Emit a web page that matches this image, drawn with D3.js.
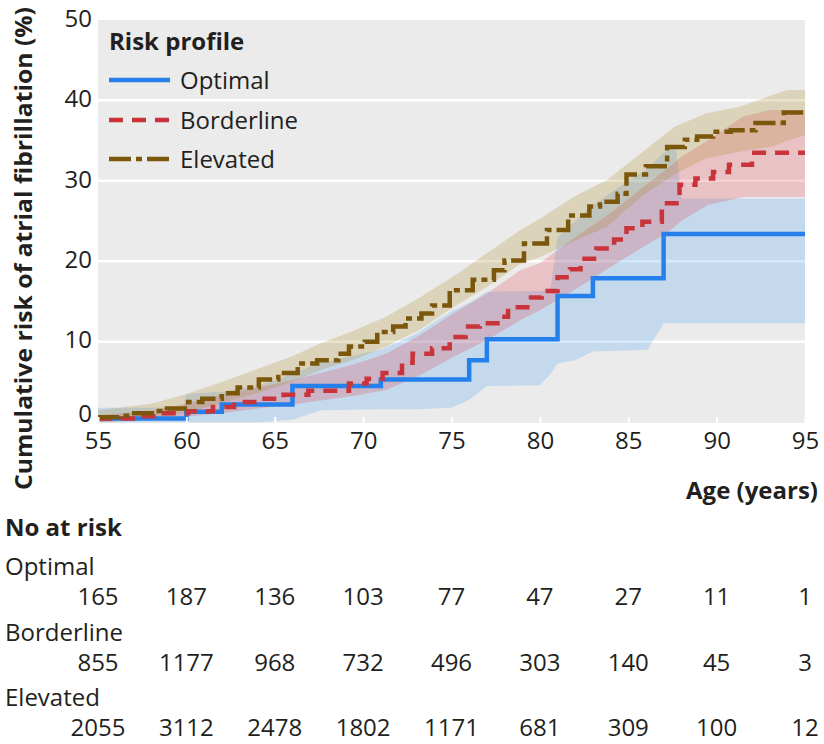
<!DOCTYPE html>
<html><head><meta charset="utf-8">
<script src="https://cdn.jsdelivr.net/npm/d3@7"></script>
<style>
body{margin:0;background:#fff;}
svg{display:block;font-family:"Open Sans",Lato,sans-serif;}
</style>
</head><body>
<svg id="chart" width="824" height="744"></svg>
<script>
// ---------- data ----------
const ageTicks = [55, 60, 65, 70, 75, 80, 85, 90, 95];
const riskTicks = [0, 10, 20, 30, 40, 50];
const seriesNames = ["Optimal", "Borderline", "Elevated"];

// step functions: [age, cumulative risk %]
const optimalSteps = [[55,0.45],[60,1.3],[62,2.2],[66,4.5],[71,5.3],[76,7.7],[77,10.3],[81,15.7],[83,17.9],[87,23.4],[95,23.4]];
const borderlineSteps = [[55,0.45],[57.3,0.75],[58.6,1.1],[60.1,1.35],[61.5,1.9],[62.7,2.5],[64.0,2.9],[65.5,3.4],[66.9,3.9],[69.2,4.8],[70.2,5.4],[71.1,6.1],[72.2,7.4],[72.8,8.5],[73.9,9.2],[74.9,10.6],[75.8,11.9],[76.6,12.3],[77.6,13.1],[78.2,14.3],[79.5,15.5],[80.1,16.3],[81.0,18.0],[81.7,19.0],[82.3,20.3],[83.2,21.6],[84.2,22.7],[84.9,24.1],[85.8,24.9],[86.9,27.2],[87.9,29.5],[88.8,30.3],[89.8,31.1],[90.7,32.0],[92.0,33.5],[95,33.5]];
const elevatedSteps = [[55,0.6],[56.2,0.8],[56.9,1.1],[58.2,1.4],[58.9,1.7],[60.1,2.5],[60.9,2.9],[62.0,3.6],[62.9,4.3],[64.1,5.3],[65.2,6.1],[66.3,7.3],[67.4,7.7],[68.6,8.5],[69.2,9.4],[70.1,10.0],[70.8,11.2],[71.7,11.9],[72.4,12.9],[73.3,13.5],[73.9,14.5],[74.9,16.4],[76.2,17.7],[77.4,18.9],[78.0,20.1],[79.1,22.2],[80.4,23.9],[81.6,25.7],[82.8,26.8],[83.4,27.4],[84.4,28.4],[84.9,30.8],[86.0,31.8],[87.2,34.2],[88.2,35.1],[88.9,35.5],[89.8,36.1],[90.8,36.3],[92.2,37.2],[93.8,38.5],[95,38.5]];

// confidence bands: [age, lower, upper]
const optimalBand = [[55,0,1.8],[59.8,0,1.8],[60,0,3.5],[62,0,3.8],[64,0,4.5],[66,0.3,6.0],[67.6,1.5,7.4],[71,1.6,9.0],[73,1.6,11.0],[75,1.8,13.8],[76,2.8,14.8],[77,4.5,16.2],[80,4.6,16.3],[80.6,6.0,16.5],[81,7.3,23.0],[82,7.7,25.0],[83,8.8,27.0],[85,8.9,30.0],[86.1,9.0,31.5],[87,12.3,33.5],[87.7,12.3,34.3],[88,12.3,27.8],[95,12.3,27.8]];
const borderlineBand = [[55,0,0.9],[58,0.3,1.4],[60,0.7,2.3],[62,1.1,3.4],[64,1.7,4.3],[66,2.2,5.2],[67.6,2.7,6.1],[69.5,3.3,7.2],[71.3,4.0,8.5],[73.2,5.8,10.8],[75.1,8.1,13.5],[77,10.2,16.0],[78.9,12.7,18.9],[80,13.9,19.8],[82,16.5,23.0],[84,19.3,26.0],[86,22.0,29.5],[87.2,23.5,31.5],[88,25.0,33.0],[89.5,27.0,35.0],[91.5,28.0,38.0],[93,28.0,38.8],[95,28.0,38.8]];
const elevatedBand = [[55,0,1.5],[58,0.5,2.3],[60,1.2,3.5],[62,2.4,5.0],[64,3.6,6.6],[66,5.0,8.2],[67.6,6.5,9.8],[69.5,7.8,11.4],[71.3,9.4,13.1],[73.2,11.5,15.5],[75.1,14.3,18.1],[77,16.8,21.0],[78.9,19.7,23.9],[80,20.5,25.3],[81.9,22.5,28.0],[83.8,24.3,30.1],[85.7,28.0,33.4],[87.6,30.8,36.7],[89.4,32.8,38.4],[91.3,33.6,39.2],[93.2,34.3,40.7],[94,35.0,41.3],[95,35.7,41.3]];

// numbers at risk at each age tick
const atRiskOptimal = [165, 187, 136, 103, 77, 47, 27, 11, 1];
const atRiskBorderline = [855, 1177, 968, 732, 496, 303, 140, 45, 3];
const atRiskElevated = [2055, 3112, 2478, 1802, 1171, 681, 309, 100, 12];

// ---------- drawing ----------
const svg = d3.select("#chart");
const x = d3.scaleLinear().domain([55, 95]).range([98, 805]);
const y = d3.scaleLinear().domain([0, 50]).range([422.2, 19.9]);
const panelTop = 20, panelBottom = 423;
const FS = 24;
const FONT = "'Open Sans',Lato,sans-serif";
const TXT = "#231f20";

const colors = {Optimal: "#2680eb", Borderline: "#c8343a", Elevated: "#7b570c"};
const bandFill = {Optimal: "#2f8ff0", Borderline: "#e0303a", Elevated: "#b08a2a"};
const bandOpacity = {Optimal: 0.2, Borderline: 0.22, Elevated: 0.25};
const dashes = {Optimal: null, Borderline: "14,9", Elevated: "22,5,6,5"};

svg.append("defs").append("clipPath").attr("id", "clip")
  .append("rect").attr("x", x(55)).attr("y", panelTop)
  .attr("width", x(95) - x(55)).attr("height", panelBottom - panelTop);

svg.append("rect").attr("x", x(55)).attr("y", panelTop)
  .attr("width", x(95) - x(55)).attr("height", panelBottom - panelTop)
  .attr("fill", "#ebebeb");

// gridlines
svg.append("g").selectAll("line").data(riskTicks.filter(d => d > 0 && d < 50)).join("line")
  .attr("x1", x(55)).attr("x2", x(95))
  .attr("y1", d => y(d)).attr("y2", d => y(d))
  .attr("stroke", "#fff").attr("stroke-width", 2.5);

const plot = svg.append("g").attr("clip-path", "url(#clip)");
const bands = {Optimal: optimalBand, Borderline: borderlineBand, Elevated: elevatedBand};
const steps = {Optimal: optimalSteps, Borderline: borderlineSteps, Elevated: elevatedSteps};

const area = d3.area().x(d => x(d[0])).y0(d => y(d[1])).y1(d => y(d[2]));
seriesNames.forEach(n => {
  plot.append("path").attr("d", area(bands[n]))
    .attr("fill", bandFill[n]).attr("fill-opacity", bandOpacity[n]);
});

const stepLine = d3.line().x(d => x(d[0])).y(d => y(d[1])).curve(d3.curveStepAfter);
seriesNames.forEach(n => {
  plot.append("path").attr("d", stepLine(steps[n]))
    .attr("fill", "none").attr("stroke", colors[n])
    .attr("stroke-width", 4.5)
    .attr("stroke-dasharray", dashes[n]);
});

// x axis
const xAxis = svg.append("g").attr("transform", `translate(0,${panelBottom})`)
  .call(d3.axisBottom(x).tickValues(ageTicks).tickSizeInner(-6).tickSizeOuter(0).tickPadding(9));
xAxis.select(".domain").remove();
xAxis.selectAll(".tick line").attr("stroke", "#fff").attr("stroke-width", 2);
xAxis.selectAll("text").attr("font-size", FS).attr("fill", TXT).attr("font-family", FONT);

// y axis
const yAxis = svg.append("g").attr("transform", `translate(${x(55)},0)`)
  .call(d3.axisLeft(y).tickValues(riskTicks).tickSize(0).tickPadding(6));
yAxis.select(".domain").remove();
yAxis.selectAll("text").attr("font-size", FS).attr("fill", TXT).attr("dy", "0.3em").attr("font-family", FONT)
  .attr("y", d => d === 0 ? -8 : -1);

// axis titles
svg.append("text").attr("transform", "translate(32,248.5) rotate(-90)")
  .attr("text-anchor", "middle").attr("font-size", FS).attr("font-weight", "bold")
  .attr("textLength", 483).attr("lengthAdjust", "spacingAndGlyphs")
  .attr("fill", TXT).text("Cumulative risk of atrial fibrillation (%)");
svg.append("text").attr("x", 818).attr("y", 499).attr("text-anchor", "end")
  .attr("font-size", FS).attr("font-weight", "bold").attr("fill", TXT).text("Age (years)");

// legend
const lg = svg.append("g");
lg.append("text").attr("x", 109).attr("y", 50).attr("font-size", FS).attr("font-weight", "bold")
  .attr("fill", TXT).text("Risk profile");
const legendY = [80, 120, 159];
seriesNames.forEach((n, i) => {
  lg.append("line").attr("x1", 109).attr("x2", 170).attr("y1", legendY[i]).attr("y2", legendY[i])
    .attr("stroke", colors[n]).attr("stroke-width", 4.5).attr("stroke-dasharray", dashes[n]);
  lg.append("text").attr("x", 180).attr("y", legendY[i]).attr("dy", "0.36em")
    .attr("font-size", FS).attr("fill", TXT).text(n);
});

// numbers at risk table
svg.append("text").attr("x", 5).attr("y", 536).attr("font-size", FS).attr("font-weight", "bold")
  .attr("fill", TXT).text("No at risk");
const tableRows = [atRiskOptimal, atRiskBorderline, atRiskElevated];
seriesNames.forEach((n, i) => {
  const base = 575 + i * 65.5;
  svg.append("text").attr("x", 5).attr("y", base).attr("font-size", FS).attr("fill", TXT).text(n);
  svg.append("g").selectAll("text").data(tableRows[i]).join("text")
    .attr("x", (d, j) => x(ageTicks[j])).attr("y", base + 30)
    .attr("text-anchor", "middle").attr("font-size", FS).attr("fill", TXT).text(d => d);
});
</script>
</body></html>
